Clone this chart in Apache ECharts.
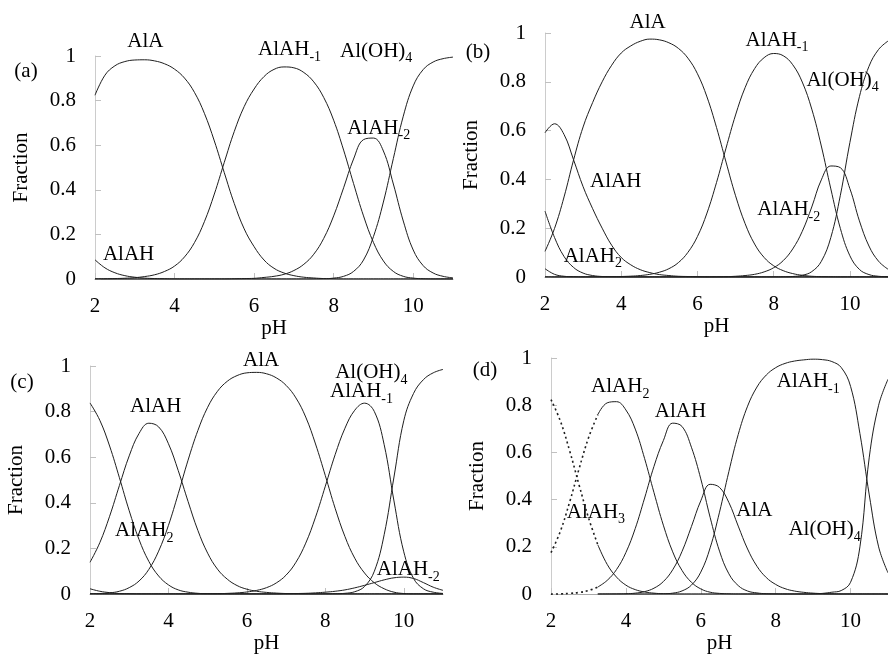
<!DOCTYPE html>
<html>
<head>
<meta charset="utf-8">
<script src="https://cdn.jsdelivr.net/npm/echarts@6/dist/echarts.min.js"></script>
<style>
  html, body { margin: 0; padding: 0; background: #fff; overflow: hidden; }
  #chart { width: 888px; height: 655px; }
</style>
</head>
<body>
<div id="chart"></div>
<script>
  // pH grid shared by every panel
  var pH = [2, 2.25, 2.5, 2.75, 3, 3.25, 3.5, 3.75, 4, 4.25, 4.5, 4.75, 5, 5.25, 5.5, 5.75, 6, 6.25, 6.5, 6.75,
            7, 7.25, 7.5, 7.75, 8, 8.25, 8.5, 8.75, 9, 9.25, 9.5, 9.75, 10, 10.25, 10.5, 10.75, 11];
  var xTicks = [2, 4, 6, 8, 10];

  // (a)
  var aAlAH   = [0.086,0.05,0.028,0.015,0.008,0.004,0.002,0.001,0,0,0,0,0,0,0,0,0,0,0,0,0,0,0,0,0,0,0,0,0,0,0,0,0,0,0,0,0];
  var aAlA    = [0.824,0.914,0.956,0.975,0.982,0.983,0.978,0.965,0.941,0.901,0.837,0.743,0.619,0.477,0.339,0.225,0.145,0.085,0.048,0.027,0.015,0.008,0.0045,0.002,0.001,0,0,0,0,0,0,0,0,0,0,0,0];
  var aAlAHm1 = [0.0005,0.001,0.002,0.0034,0.006,0.011,0.019,0.034,0.058,0.099,0.163,0.257,0.381,0.523,0.661,0.773,0.852,0.908,0.94,0.951,0.947,0.926,0.884,0.814,0.712,0.578,0.428,0.283,0.164,0.081,0.034,0.012,0.004,0.001,0,0,0];
  var aAlAHm2 = [0,0,0,0,0,0,0,0,0,0,0,0,0,0,0.001,0.002,0.003,0.007,0.012,0.021,0.038,0.066,0.111,0.182,0.283,0.409,0.538,0.625,0.632,0.574,0.426,0.26,0.13,0.06,0.027,0.012,0.005];
  var aAlOH4  = [0,0,0,0,0,0,0,0,0,0,0,0,0,0,0,0,0,0,0,0,0,0,0.0004,0.001,0.004,0.012,0.034,0.085,0.19,0.345,0.54,0.73,0.866,0.939,0.973,0.988,0.995];

  // (b)
  var bAlAH3  = [0.034,0.011,0.003,0.001,0,0,0,0,0,0,0,0,0,0,0,0,0,0,0,0,0,0,0,0,0,0,0,0,0,0,0,0,0,0,0,0,0];
  var bAlAH2  = [0.27,0.162,0.084,0.039,0.016,0.006,0.002,0.001,0,0,0,0,0,0,0,0,0,0,0,0,0,0,0,0,0,0,0,0,0,0,0,0,0,0,0,0,0];
  var bAlAH   = [0.591,0.628,0.584,0.48,0.37,0.28,0.2,0.13,0.08,0.05,0.03,0.018,0.01,0.006,0.003,0.002,0.001,0,0,0,0,0,0,0,0,0,0,0,0,0,0,0,0,0,0,0,0];
  var bAlA    = [0.105,0.199,0.328,0.48,0.615,0.715,0.8,0.868,0.918,0.947,0.966,0.975,0.972,0.96,0.937,0.897,0.833,0.738,0.613,0.471,0.333,0.219,0.135,0.08,0.046,0.026,0.014,0.007,0.003,0.0015,0.0006,0,0,0,0,0,0];
  var bAlAHm1 = [0,0,0,0,0,0.0003,0.0005,0.001,0.002,0.0034,0.006,0.011,0.0195,0.034,0.059,0.101,0.166,0.262,0.387,0.528,0.664,0.776,0.854,0.899,0.916,0.907,0.87,0.799,0.688,0.537,0.361,0.199,0.087,0.031,0.01,0.003,0.001];
  var bAlAHm2 = [0,0,0,0,0,0,0,0,0,0,0,0,0,0,0,0,0,0,0.0005,0.0012,0.003,0.006,0.011,0.021,0.038,0.067,0.115,0.187,0.287,0.398,0.455,0.448,0.362,0.23,0.127,0.065,0.032];
  var bAlOH4  = [0,0,0,0,0,0,0,0,0,0,0,0,0,0,0,0,0,0,0,0,0,0,0,0,0.0001,0.0005,0.002,0.007,0.022,0.064,0.162,0.335,0.551,0.739,0.863,0.932,0.967];

  // (c)
  var cAlAH3  = [0.023,0.012,0.006,0.002,0.001,0,0,0,0,0,0,0,0,0,0,0,0,0,0,0,0,0,0,0,0,0,0,0,0,0,0,0,0,0,0,0,0];
  var cAlAH2  = [0.838,0.762,0.649,0.51,0.365,0.239,0.143,0.079,0.04,0.018,0.008,0.003,0.001,0,0,0,0,0,0,0,0,0,0,0,0,0,0,0,0,0,0,0,0,0,0,0,0];
  var cAlAH   = [0.139,0.225,0.341,0.476,0.606,0.704,0.749,0.733,0.659,0.541,0.406,0.279,0.179,0.109,0.065,0.037,0.021,0.012,0.007,0.004,0.002,0.001,0,0,0,0,0,0,0,0,0,0,0,0,0,0,0];
  var cAlA    = [0.001,0.002,0.005,0.012,0.028,0.057,0.108,0.188,0.301,0.44,0.587,0.717,0.819,0.889,0.933,0.958,0.97,0.972,0.966,0.948,0.915,0.86,0.776,0.658,0.519,0.376,0.252,0.157,0.092,0.049,0.023,0.008,0.002,0,0,0,0];
  var cAlAHm1 = [0,0,0,0,0,0,0,0,0,0,0.0003,0.0004,0.0007,0.0014,0.0027,0.0049,0.0088,0.0158,0.0278,0.0486,0.083,0.139,0.223,0.337,0.473,0.611,0.727,0.806,0.837,0.8,0.655,0.408,0.185,0.068,0.023,0.008,0.0025];
  var cAlAHm2 = [0,0,0,0,0,0,0,0,0,0,0,0,0,0,0,0,0,0,0,0,0.001,0.002,0.003,0.005,0.008,0.012,0.018,0.027,0.038,0.05,0.062,0.071,0.074,0.068,0.05,0.03,0.016];
  var cAlOH4  = [0,0,0,0,0,0,0,0,0,0,0,0,0,0,0,0,0,0,0,0,0,0,0,0,0.0002,0.001,0.003,0.01,0.033,0.1,0.26,0.513,0.76,0.88,0.94,0.97,0.985];

  // (d)  dotted part below pH 3.25, solid above
  var dAlAH3dot = [0.824,0.733,0.606,0.462,0.324,0.209,null,null,null,null,null,null,null,null,null,null,null,null,null,null,null,null,null,null,null,null,null,null,null,null,null,null,null,null,null,null,null];
  var dAlAH3    = [null,null,null,null,null,0.209,0.126,0.072,0.038,0.019,0.009,0.004,0.0014,0.0005,0,0,0,0,0,0,0,0,0,0,0,0,0,0,0,0,0,0,0,0,0,0,0];
  var dAlAH2dot = [0.176,0.266,0.391,0.531,0.661,0.76,null,null,null,null,null,null,null,null,null,null,null,null,null,null,null,null,null,null,null,null,null,null,null,null,null,null,null,null,null,null,null];
  var dAlAH2    = [null,null,null,null,null,0.76,0.81,0.815,0.78,0.699,0.574,0.43,0.292,0.179,0.1,0.05,0.022,0.008,0.003,0.001,0,0,0,0,0,0,0,0,0,0,0,0,0,0,0,0,0];
  var dAlAHdot  = [0,0.001,0.003,0.007,0.015,0.03,null,null,null,null,null,null,null,null,null,null,null,null,null,null,null,null,null,null,null,null,null,null,null,null,null,null,null,null,null,null,null];
  var dAlAH     = [null,null,null,null,null,0.03,0.058,0.104,0.176,0.278,0.407,0.541,0.65,0.724,0.71,0.622,0.488,0.325,0.182,0.086,0.036,0.013,0.005,0.0015,0.0005,0,0,0,0,0,0,0,0,0,0,0,0];
  var dAlA      = [null,null,null,null,null,0,0.0002,0.0005,0.0014,0.004,0.0105,0.025,0.053,0.103,0.181,0.286,0.395,0.465,0.452,0.388,0.288,0.191,0.118,0.07,0.041,0.023,0.013,0.0075,0.004,0.002,0.001,0,0,0,0,0,0];
  var dAlAHm1   = [null,null,null,null,null,0,0,0,0,0,0,0.0003,0.0012,0.004,0.0135,0.038,0.093,0.196,0.347,0.519,0.676,0.796,0.877,0.928,0.959,0.977,0.987,0.992,0.995,0.993,0.985,0.96,0.88,0.68,0.42,0.2,0.09];
  var dAlOH4    = [null,null,null,null,null,0,0,0,0,0,0,0,0,0,0,0,0,0,0,0,0,0,0,0,0,0,0,0,0.001,0.003,0.008,0.015,0.05,0.2,0.58,0.8,0.91];

  // species labels: [panel, text, subscript, pH, fraction] (left edge, middle)
  var labels = [
    [0, 'AlA', '', 2.81, 1.067], [0, 'AlAH', '-1', 6.10, 1.027], [0, 'Al(OH)', '4', 8.16, 1.022],
    [0, 'AlAH', '-2', 8.34, 0.677], [0, 'AlAH', '', 2.20, 0.112],
    [1, 'AlA', '', 4.22, 1.043], [1, 'AlAH', '-1', 7.26, 0.971], [1, 'Al(OH)', '4', 8.86, 0.807],
    [1, 'AlAH', '', 3.18, 0.393], [1, 'AlAH', '-2', 7.57, 0.275], [1, 'AlAH', '2', 2.49, 0.086],
    [2, 'AlA', '', 5.90, 1.026], [2, 'Al(OH)', '4', 8.25, 0.970], [2, 'AlAH', '-1', 8.12, 0.887],
    [2, 'AlAH', '', 3.02, 0.823], [2, 'AlAH', '2', 2.64, 0.277], [2, 'AlAH', '-2', 9.31, 0.108],
    [3, 'AlAH', '2', 3.07, 0.879], [3, 'AlAH', '', 4.77, 0.774], [3, 'AlAH', '-1', 8.03, 0.90],
    [3, 'AlAH', '3', 2.42, 0.347], [3, 'AlA', '', 6.95, 0.356], [3, 'Al(OH)', '4', 8.34, 0.272]
  ];
  var panelNames = ['(a)', '(b)', '(c)', '(d)'];

  var font = 'Liberation Serif';
  var lineColor = '#1e1e1e';

  var grids = [
    {left: 95, top: 56, width: 358, height: 223},
    {left: 545, top: 33, width: 349, height: 244},
    {left: 90, top: 366, width: 353, height: 231},
    {left: 551, top: 358, width: 345, height: 239}
  ];
  var pHGap = [30, 30, 39, 31];
  var letterPos = [[26, 71], [478, 52], [22, 382], [485, 370]];

  function pairs(vals) {
    return vals.map(function (v, i) { return [pH[i], v == null ? '-' : v]; });
  }

  var xAxes = [], yAxes = [];
  grids.forEach(function (g, i) {
    xAxes.push({
      type: 'value', gridIndex: i, min: 2, max: 11, interval: 2,
      name: 'pH', nameLocation: 'middle', nameGap: pHGap[i],
      nameTextStyle: {fontFamily: font, fontSize: 21, color: '#000'},
      axisLine: {lineStyle: {color: '#a8a8a8'}},
      axisTick: {inside: true, length: 6, lineStyle: {color: '#c0c0c0'}, customValues: xTicks},
      axisLabel: {margin: 17, fontFamily: font, fontSize: 21, color: '#000', customValues: xTicks},
      splitLine: {show: false}
    });
    yAxes.push({
      type: 'value', gridIndex: i, min: 0, max: 1, interval: 0.2,
      name: 'Fraction', nameLocation: 'middle', nameGap: 63, nameRotate: 90,
      nameTextStyle: {fontFamily: font, fontSize: 21, color: '#000'},
      axisLine: {show: true, lineStyle: {color: '#cccccc'}},
      axisTick: {show: true, inside: true, length: 6, lineStyle: {color: '#c0c0c0'}},
      axisLabel: {margin: 19, fontFamily: font, fontSize: 21, color: '#000'},
      splitLine: {show: false}
    });
  });

  function line(idx, vals, dotted) {
    return {
      type: 'line', xAxisIndex: idx, yAxisIndex: idx, data: pairs(vals),
      showSymbol: false, symbol: 'none', smooth: 0.4, connectNulls: false,
      lineStyle: dotted ? {color: lineColor, width: 1.6, type: [2, 3]} : {color: lineColor, width: 1},
      silent: true, animation: false
    };
  }

  var series = [
    line(0, aAlAH), line(0, aAlA), line(0, aAlAHm1), line(0, aAlAHm2), line(0, aAlOH4),
    line(1, bAlAH3), line(1, bAlAH2), line(1, bAlAH), line(1, bAlA), line(1, bAlAHm1), line(1, bAlAHm2), line(1, bAlOH4),
    line(2, cAlAH3), line(2, cAlAH2), line(2, cAlAH), line(2, cAlA), line(2, cAlAHm1), line(2, cAlAHm2), line(2, cAlOH4),
    line(3, dAlAH3dot, true), line(3, dAlAH2dot, true), line(3, dAlAHdot, true),
    line(3, dAlAH3), line(3, dAlAH2), line(3, dAlAH), line(3, dAlA), line(3, dAlAHm1), line(3, dAlOH4)
  ];

  var chart = echarts.init(document.getElementById('chart'));
  chart.setOption({
    backgroundColor: '#fff',
    animation: false,
    grid: grids,
    xAxis: xAxes,
    yAxis: yAxes,
    series: series
  });

  // subscript: short token aligned to the bottom of a taller line
  var rich = {
    m: {fontFamily: font, fontSize: 21, lineHeight: 29, verticalAlign: 'middle', fill: '#000', color: '#000'},
    s: {fontFamily: font, fontSize: 14, lineHeight: 13, verticalAlign: 'bottom', fill: '#000', color: '#000'}
  };
  var graphics = [];
  labels.forEach(function (l) {
    var p = chart.convertToPixel({gridIndex: l[0]}, [l[3], l[4]]);
    graphics.push({
      type: 'text', x: p[0], y: p[1], silent: true,
      style: {
        text: l[2] ? '{m|' + l[1] + '}{s|' + l[2] + '}' : '{m|' + l[1] + '}',
        rich: rich, align: 'left', verticalAlign: 'middle', fill: '#000'
      }
    });
  });
  panelNames.forEach(function (t, i) {
    graphics.push({
      type: 'text', x: letterPos[i][0], y: letterPos[i][1], silent: true,
      style: {text: t, font: '21px ' + font, align: 'center', verticalAlign: 'middle', fill: '#000'}
    });
  });
  chart.setOption({graphic: graphics});
</script>
</body>
</html>
